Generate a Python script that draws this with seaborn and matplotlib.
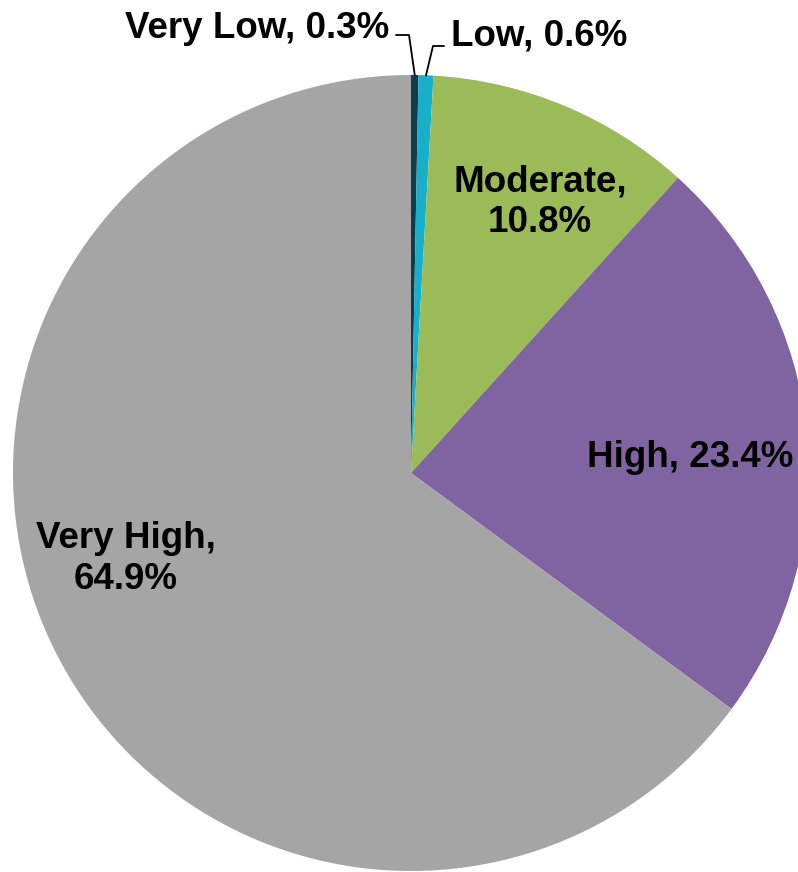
import numpy as np
import matplotlib
matplotlib.use("Agg")
import matplotlib.pyplot as plt
import seaborn as sns

categories = ["Very Low", "Low", "Moderate", "High", "Very High"]
shares = [0.3, 0.6, 10.8, 23.4, 64.9]
colors = ["#0F3B4C", "#17AFC9", "#9BBB59", "#8064A2", "#A5A5A5"]

sns.set_theme(style="white")
plt.rcParams["font.family"] = ["Liberation Sans", "DejaVu Sans"]

W, H = 798, 872
cx, cy, r = 411, 473, 398

fig = plt.figure(figsize=(W / 100, H / 100), dpi=100)
ax = fig.add_axes([(cx - r) / W, (H - cy - r) / H, 2 * r / W, 2 * r / H])

wedges, _ = ax.pie(shares, colors=colors, startangle=90, counterclock=False,
                   radius=1, wedgeprops=dict(linewidth=0))
ax.set_xlim(-1, 1)
ax.set_ylim(-1, 1)
ax.set_aspect("equal")
ax.axis("off")


def d(px, py):
    # pixel -> data coords
    return (px - cx) / r, (cy - py) / r


labels = [f"{c}, {v}%" for c, v in zip(categories, shares)]
fs = 26.5
kw = dict(fontsize=fs, fontweight="bold", color="black", clip_on=False)

# inside labels
ax.text(*d(540, 202), "Moderate,\n10.8%", ha="center", va="center",
        linespacing=1.22, **kw)
ax.text(*d(690, 457), labels[3], ha="center", va="center", **kw)
ax.text(*d(126, 559), "Very High,\n64.9%", ha="center", va="center",
        linespacing=1.22, **kw)

# outside labels with leader lines
ax.text(*d(389, 28), labels[0], ha="right", va="center", **kw)
ax.text(*d(451, 36), labels[1], ha="left", va="center", **kw)

for i, (x0, x1, y) in zip([0, 1], [(396, 409, 35), (444, 433, 46)]):
    w = wedges[i]
    ang = np.deg2rad((w.theta1 + w.theta2) / 2)
    ex, ey = np.cos(ang), np.sin(ang)
    p0, p1 = d(x0, y), d(x1, y)
    ax.plot([p0[0], p1[0], ex], [p0[1], p1[1], ey], color="black",
            lw=1.3, clip_on=False)

fig.savefig("out.png", dpi=100)
